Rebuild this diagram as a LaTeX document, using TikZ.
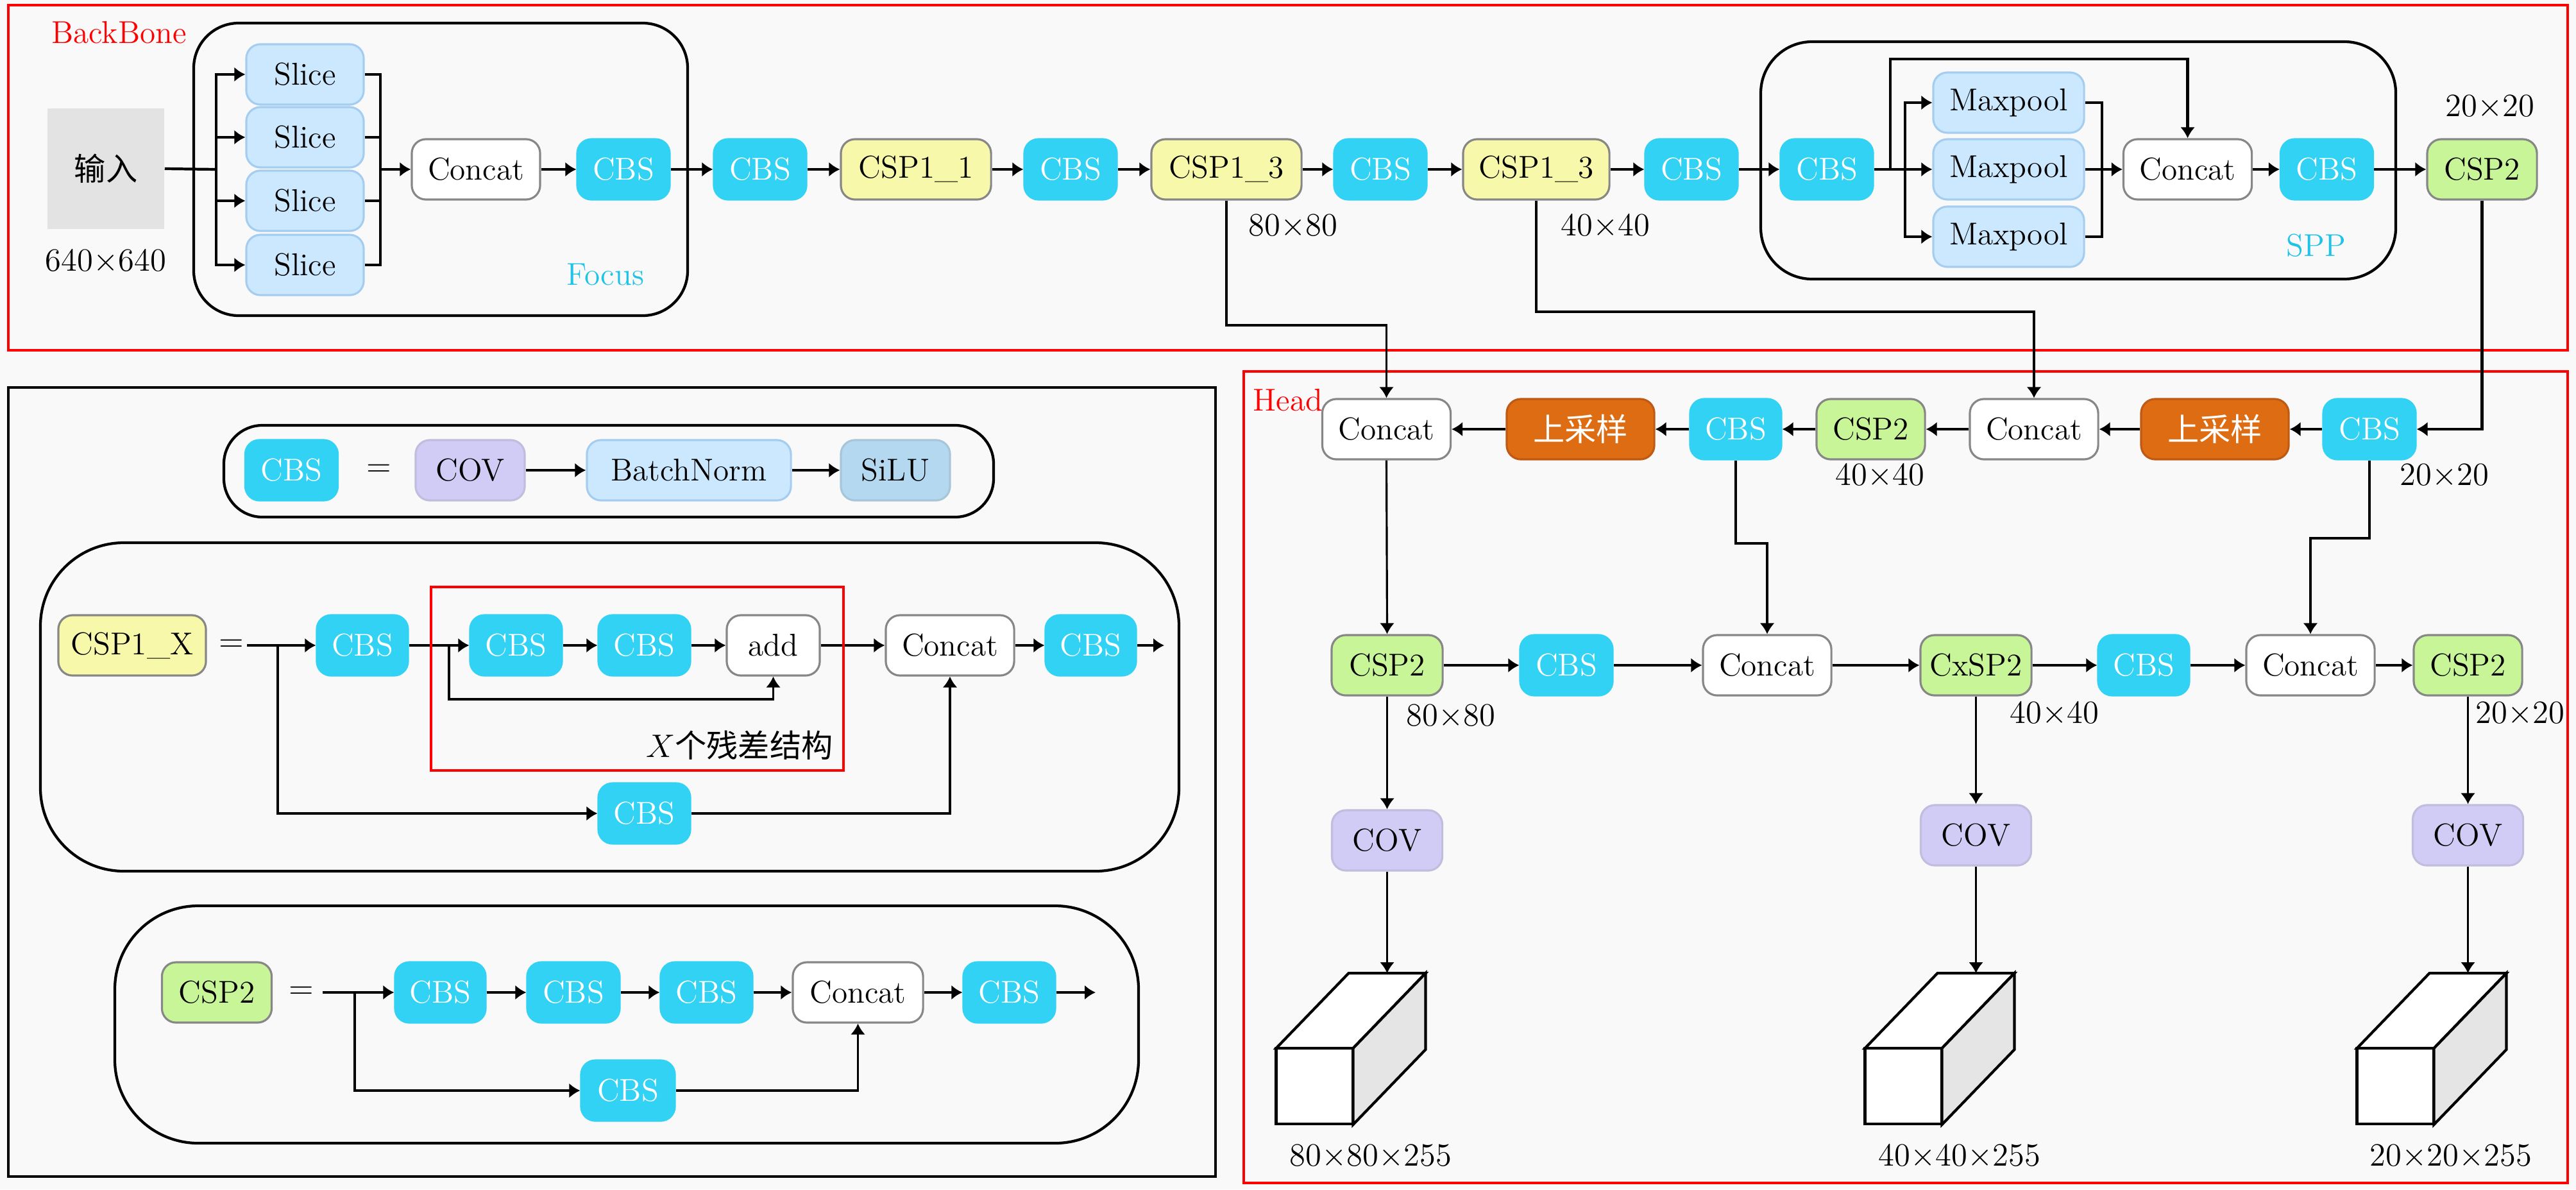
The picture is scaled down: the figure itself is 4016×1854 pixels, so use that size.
\documentclass[tikz,border=0pt]{standalone}
\usepackage{fontspec}
\newfontfamily\cjk{Noto Sans CJK SC}
\usetikzlibrary{arrows.meta}
\definecolor{bg}{RGB}{249,249,249}
\definecolor{cbsc}{RGB}{50,210,244}
\definecolor{lblue}{RGB}{204,232,255}
\definecolor{lblueb}{RGB}{165,205,240}
\definecolor{yel}{RGB}{248,248,170}
\definecolor{grn}{RGB}{200,245,152}
\definecolor{org}{RGB}{222,108,18}
\definecolor{orgb}{RGB}{190,90,20}
\definecolor{lav}{RGB}{208,204,245}
\definecolor{silu}{RGB}{180,216,240}
\definecolor{cyt}{RGB}{30,195,230}
\definecolor{gbr}{RGB}{135,135,135}
\newcommand{\tx}{{\times}}
\begin{document}
\begin{tikzpicture}[x=0.01cm, y=-0.01cm, font=\fontsize{14}{17}\selectfont,
  blk/.style={rounded corners=2.2mm, minimum height=0.94cm, inner sep=0pt, line width=0.9pt, align=center},
  cbs/.style={blk, fill=cbsc, draw=cbsc, text=white, minimum width=1.44cm},
  concat/.style={blk, fill=white, draw=gbr, minimum width=2.0cm},
  slicebox/.style={blk, fill=lblue, draw=lblueb, minimum width=1.83cm},
  maxp/.style={blk, fill=lblue, draw=lblueb, minimum width=2.35cm},
  cspone/.style={blk, fill=yel, draw=gbr, minimum width=2.34cm},
  csptwo/.style={blk, fill=grn, draw=gbr, minimum width=1.71cm},
  upbox/.style={blk, fill=org, draw=orgb, text=white, minimum width=2.3cm},
  covbox/.style={blk, fill=lav, draw=lav!80!gray, minimum width=1.72cm},
  capsule/.style={draw=black, line width=1.2pt},
  ln/.style={line width=1.2pt},
  arr/.style={line width=1.2pt, -{Latex[length=1.7mm,width=2.3mm]}},
  arrt/.style={line width=0.9pt, -{Latex[length=1.7mm,width=2.3mm]}},
  lnt/.style={line width=0.9pt}
]
\useasboundingbox (0,0) rectangle (4016,1854);
\fill[bg] (0,0) rectangle (4016,1854);

% ===== frames =====
\draw[red, line width=1pt] (13,8) rectangle (4003,546);
\draw[black, line width=1pt] (13,604) rectangle (1895,1834);
\draw[red, line width=0.9pt] (1939,579) rectangle (4003,1844);
\node[text=red, anchor=west] (lbb) at (68,51) {BackBone};
\node[text=red, anchor=west] (lhead) at (1941,624) {Head};

% ===== capsules =====
\draw[capsule, rounded corners=7mm] (302,36) rectangle (1072,492);
\draw[capsule, rounded corners=8mm] (2745,65) rectangle (3735,435);
\draw[capsule, rounded corners=6mm] (349,663) rectangle (1549,806);
\draw[capsule, rounded corners=13mm] (63,846) rectangle (1838,1358);
\draw[capsule, rounded corners=13mm] (179,1412) rectangle (1775,1782);
\node[text=cyt] (lfocus) at (944,428) {Focus};
\node[text=cyt] (lspp) at (3611,383) {SPP};

% ===== backbone =====
\node[fill=gray!22, minimum width=1.82cm, minimum height=1.88cm, inner sep=0pt] (inp) at (165,263) {\cjk 输入};
\node (l640) at (165,408) {$640\tx640$};
\node[slicebox] (s1) at (475.5,116) {Slice};
\node[slicebox] (s2) at (475.5,214) {Slice};
\node[slicebox] (s3) at (475.5,313) {Slice};
\node[slicebox] (s4) at (475.5,413) {Slice};
\coordinate (bL) at (337,264);
\coordinate (bR) at (593,264);
\draw[ln] (inp.east) -- (bL);
\foreach \s in {s1,s2,s3,s4}{
  \draw[arr] (bL) |- (\s.west);
  \draw[ln] (\s.east) -| (bR);
}
\node[concat] (cc1) at (742,264) {Concat};
\draw[arr] (bR) -- (cc1.west);
\node[cbs] (cb1) at (972,264) {CBS};
\node[cbs] (cb2) at (1185,264) {CBS};
\node[cspone] (cs11) at (1428,264) {CSP1\_1};
\node[cbs] (cb3) at (1669,264) {CBS};
\node[cspone] (cs13a) at (1912,264) {CSP1\_3};
\node[cbs] (cb4) at (2152,264) {CBS};
\node[cspone, minimum width=2.28cm] (cs13b) at (2395,264) {CSP1\_3};
\node[cbs] (cb5) at (2637,264) {CBS};
\node[cbs] (cb6) at (2848,264) {CBS};
\node[maxp] (mp1) at (3131.5,160) {Maxpool};
\node[maxp] (mp2) at (3131.5,264) {Maxpool};
\node[maxp] (mp3) at (3131.5,369) {Maxpool};
\node[concat] (cc2) at (3410.5,264) {Concat};
\node[cbs] (cb7) at (3627.5,264) {CBS};
\node[csptwo] (csa) at (3869.5,264) {CSP2};
\draw[arr] (cc1.east) -- (cb1.west);
\draw[arr] (cb1.east) -- (cb2.west);
\draw[arr] (cb2.east) -- (cs11.west);
\draw[arr] (cs11.east) -- (cb3.west);
\draw[arr] (cb3.east) -- (cs13a.west);
\draw[arr] (cs13a.east) -- (cb4.west);
\draw[arr] (cb4.east) -- (cs13b.west);
\draw[arr] (cs13b.east) -- (cb5.west);
\draw[arr] (cb5.east) -- (cb6.west);
\coordinate (sa) at (2947,264);
\coordinate (st) at (2947,92);
\coordinate (sb) at (2970,264);
\coordinate (sr) at (3277,264);
\draw[ln] (cb6.east) -- (sb);
\foreach \m in {mp1,mp2,mp3}{
  \draw[arr] (sb) |- (\m.west);
  \draw[ln] (\m.east) -| (sr);
}
\draw[arr] (sa) -- (st) -| (cc2.north);
\draw[arr] (sr) -- (cc2.west);
\draw[arr] (cc2.east) -- (cb7.west);
\draw[arr] (cb7.east) -- (csa.west);
\node (l80a) at (2016,353) {$80\tx80$};
\node (l40a) at (2503,353) {$40\tx40$};
\node (l20a) at (3882,167) {$20\tx20$};

% ===== head =====
\node[concat] (hc1) at (2161.5,669) {Concat};
\node[upbox] (hu1) at (2464,669) {\cjk 上采样};
\node[cbs, minimum width=1.42cm] (hb1) at (2706,669) {CBS};
\node[csptwo, minimum width=1.69cm] (hs1) at (2916.5,669) {CSP2};
\node[concat] (hc2) at (3171,669) {Concat};
\node[upbox] (hu2) at (3453,669) {\cjk 上采样};
\node[cbs] (hb2) at (3694,669) {CBS};
\node (l40b) at (2931,742) {$40\tx40$};
\node (l20b) at (3811,742) {$20\tx20$};

\coordinate (k1) at (1912,507);
\coordinate (k2) at (2395,486);
\draw[arrt] (cs13a.south) -- (k1) -| (hc1.north);
\draw[arrt] (cs13b.south) -- (k2) -| (hc2.north);
\draw[arr] (csa.south) |- (hb2.east);
\draw[arr] (hb2.west) -- (hu2.east);
\draw[arr] (hu2.west) -- (hc2.east);
\draw[arr] (hc2.west) -- (hs1.east);
\draw[arr] (hs1.west) -- (hb1.east);
\draw[arr] (hb1.west) -- (hu1.east);
\draw[arr] (hu1.west) -- (hc1.east);

\node[csptwo, minimum width=1.73cm] (hr1) at (2162.5,1037) {CSP2};
\node[cbs] (hr2) at (2442,1037) {CBS};
\node[concat] (hr3) at (2755,1037) {Concat};
\node[csptwo, minimum width=1.73cm] (hr4) at (3080.5,1037) {CxSP2};
\node[cbs, minimum width=1.42cm] (hr5) at (3342,1037) {CBS};
\node[concat] (hr6) at (3602,1037) {Concat};
\node[csptwo, minimum width=1.69cm] (hr7) at (3847.5,1037) {CSP2};
\draw[arr] (hr1.east) -- (hr2.west);
\draw[arr] (hr2.east) -- (hr3.west);
\draw[arr] (hr3.east) -- (hr4.west);
\draw[arr] (hr4.east) -- (hr5.west);
\draw[arr] (hr5.east) -- (hr6.west);
\draw[arr] (hr6.east) -- (hr7.west);
\coordinate (k4) at (2755,847);
\coordinate (k5) at (3602,839);
\draw[arrt] (hc1.south) -- (hr1.north);
\draw[arrt] (hb1.south) |- (k4) -- (hr3.north);
\draw[arrt] (hb2.south) |- (k5) -- (hr6.north);
\node (l80c) at (2262,1117) {$80\tx80$};
\node (l40c) at (3203,1113) {$40\tx40$};
\node (l20c) at (3929,1113) {$20\tx20$};

\node[covbox] (cv1) at (2162.5,1310) {COV};
\node[covbox] (cv2) at (3080.5,1302) {COV};
\node[covbox] (cv3) at (3847.5,1302) {COV};
\draw[arrt] (hr1.south) -- (cv1.north);
\draw[arrt] (hr4.south) -- (cv2.north);
\draw[arrt] (hr7.south) -- (cv3.north);

% cuboids
\foreach \xo/\nm in {1989.5/t1, 2907.5/t2, 3674.5/t3}{
  \fill[white] (\xo,1634) rectangle ++(120,118);
  \draw[line width=1.2pt] (\xo,1634) rectangle ++(120,118);
  \draw[line width=1.2pt, fill=white] (\xo,1634) -- ++(113,-117) -- ++(120,0) -- ++(-113,117) -- cycle;
  \draw[line width=1.2pt, fill=gray!20] (\xo+120,1634) -- ++(113,-117) -- ++(0,119) -- ++(-113,117) -- cycle;
  \coordinate (\nm) at (\xo+173,1517);
}
\draw[arrt] (cv1.south) -- (t1);
\draw[arrt] (cv2.south) -- (t2);
\draw[arrt] (cv3.south) -- (t3);
\node (o1) at (2137,1803) {$80\tx80\tx255$};
\node (o2) at (3055,1803) {$40\tx40\tx255$};
\node (o3) at (3821,1803) {$20\tx20\tx255$};

% ===== CBS definition =====
\node[cbs] (e1) at (454.5,733) {CBS};
\node (eq1) at (591,733) {$=$};
\node[covbox, minimum width=1.70cm] (e2) at (733,733) {COV};
\node[slicebox, minimum width=3.18cm] (e3) at (1074,733) {BatchNorm};
\node[blk, fill=silu, draw=silu!80!gray, minimum width=1.70cm] (e4) at (1396,733) {SiLU};
\draw[arr] (e2.east) -- (e3.west);
\draw[arr] (e3.east) -- (e4.west);

% ===== CSP1_X definition =====
\node[cspone, minimum width=2.30cm] (x1) at (206,1006) {CSP1\_X};
\node (eq2) at (361,1006) {$=$};
\coordinate (xs) at (385,1006);
\coordinate (xb) at (433,1006);
\node[cbs, minimum width=1.42cm] (x2) at (565,1006) {CBS};
\coordinate (xr) at (700,1006);
\coordinate (xq) at (700,1090);
\node[cbs, minimum width=1.43cm] (x3) at (804.5,1006) {CBS};
\node[cbs, minimum width=1.43cm] (x4) at (1004.5,1006) {CBS};
\node[concat, minimum width=1.45cm] (x5) at (1205.5,1006) {add};
\node[concat] (x6) at (1481,1006) {Concat};
\node[cbs, minimum width=1.41cm] (x7) at (1700.5,1006) {CBS};
\coordinate (xo) at (1815,1006);
\node[cbs, minimum width=1.43cm] (x8) at (1004.5,1268) {CBS};
\draw[ln] (xs) -- (xb);
\draw[arr] (xb) -- (x2.west);
\draw[arrt] (xb) |- (x8.west);
\draw[arrt] (x8.east) -| (x6.south);
\draw[arr] (x2.east) -- (x3.west);
\draw[arrt] (xr) -- (xq) -| (x5.south);
\draw[arr] (x3.east) -- (x4.west);
\draw[arr] (x4.east) -- (x5.west);
\draw[arr] (x5.east) -- (x6.west);
\draw[arr] (x6.east) -- (x7.west);
\draw[arr] (x7.east) -- (xo);
\draw[red, line width=1pt] (672,915) rectangle (1315,1201);
\node[anchor=east] (lres) at (1311,1162) {$X$\cjk 个残差结构};

% ===== CSP2 definition =====
\node[csptwo] (y1) at (338,1547) {CSP2};
\node (eq3) at (470,1547) {$=$};
\coordinate (ys) at (503,1547);
\coordinate (yb) at (553,1547);
\node[cbs, minimum width=1.41cm] (y2) at (686.5,1547) {CBS};
\node[cbs] (y3) at (894,1547) {CBS};
\node[cbs, minimum width=1.43cm] (y4) at (1101.5,1547) {CBS};
\node[concat, minimum width=2.03cm] (y5) at (1337.5,1547) {Concat};
\node[cbs, minimum width=1.43cm] (y6) at (1573.5,1547) {CBS};
\coordinate (yo) at (1708,1547);
\node[cbs, minimum width=1.46cm] (y7) at (979,1700) {CBS};
\draw[ln] (ys) -- (yb);
\draw[arr] (yb) -- (y2.west);
\draw[arrt] (yb) |- (y7.west);
\draw[arrt] (y7.east) -| (y5.south);
\draw[arr] (y2.east) -- (y3.west);
\draw[arr] (y3.east) -- (y4.west);
\draw[arr] (y4.east) -- (y5.west);
\draw[arr] (y5.east) -- (y6.west);
\draw[arr] (y6.east) -- (yo);
\end{tikzpicture}
\end{document}
